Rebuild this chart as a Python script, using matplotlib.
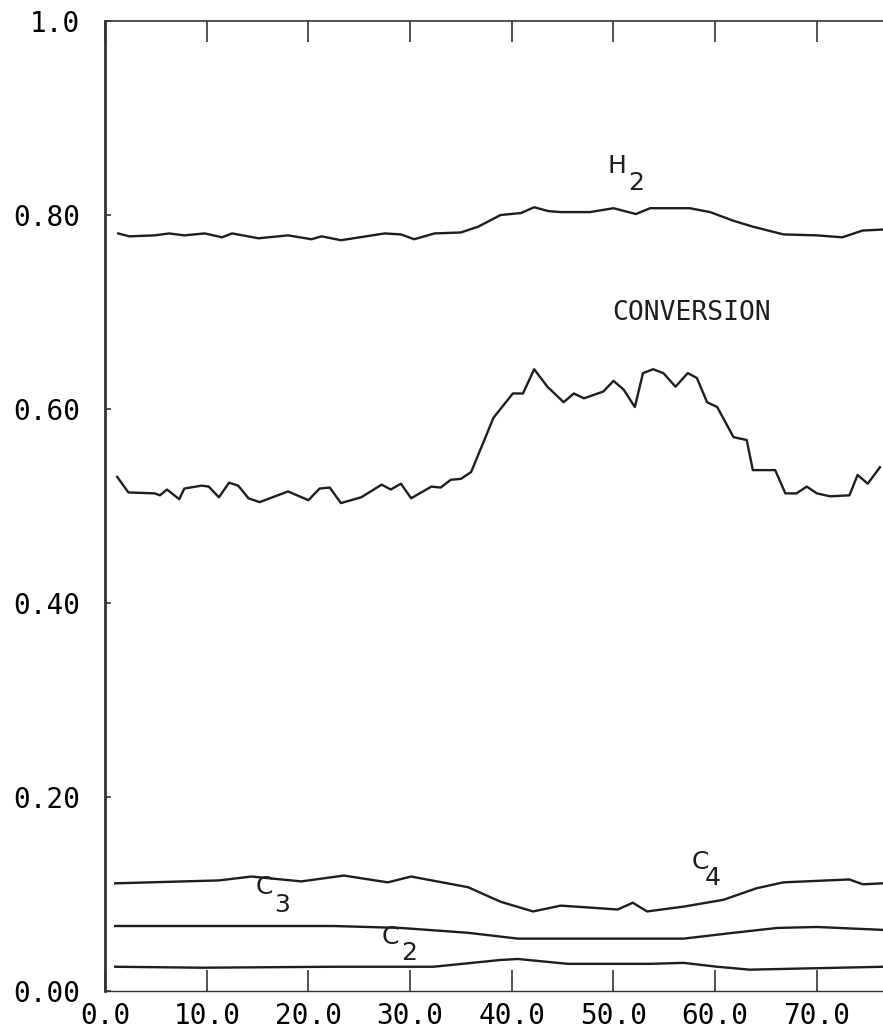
import matplotlib
matplotlib.use('Agg')
import matplotlib.pyplot as plt

# time on stream (h) and mole fractions
x_h2 = [1.3, 2.4, 4.9, 6.3, 7.8, 9.8, 11.5, 12.5, 15.1, 18.0, 20.3, 21.3, 23.2, 27.5, 29.1, 30.4,
        32.4, 35.0, 36.7, 38.9, 40.9, 42.2, 43.6, 44.8, 47.7, 50.0, 52.2, 53.6, 57.5, 59.5, 61.8,
        63.7, 66.7, 70.0, 72.5, 74.5, 76.5]
y_h2 = [0.781, 0.778, 0.779, 0.781, 0.779, 0.781, 0.777, 0.781, 0.776, 0.779, 0.775, 0.778, 0.774,
        0.781, 0.780, 0.775, 0.781, 0.782, 0.788, 0.800, 0.802, 0.808, 0.804, 0.803, 0.803, 0.807,
        0.801, 0.807, 0.807, 0.803, 0.794, 0.788, 0.780, 0.779, 0.777, 0.784, 0.785]

x_conv = [1.2, 2.3, 4.9, 5.4, 6.1, 7.3, 7.8, 9.5, 10.2, 11.2, 12.2, 13.1, 14.1, 15.2, 18.0, 20.0,
          21.1, 22.1, 23.2, 25.2, 27.2, 28.1, 29.1, 30.1, 32.1, 33.0, 34.0, 35.0, 36.0, 37.3, 38.2,
          40.1, 41.1, 42.2, 43.5, 45.1, 46.1, 47.1, 49.0, 50.0, 51.0, 52.1, 52.9, 53.9, 54.9, 56.1,
          57.3, 58.2, 59.2, 60.2, 61.8, 63.1, 63.7, 65.9, 66.9, 68.0, 69.0, 70.0, 71.3, 73.2, 74.0,
          75.0, 76.2]
y_conv = [0.530, 0.514, 0.513, 0.511, 0.517, 0.507, 0.518, 0.521, 0.520, 0.509, 0.524, 0.521, 0.508,
          0.504, 0.515, 0.506, 0.518, 0.519, 0.503, 0.509, 0.522, 0.517, 0.523, 0.508, 0.520, 0.519,
          0.527, 0.528, 0.535, 0.568, 0.591, 0.616, 0.616, 0.641, 0.623, 0.607, 0.616, 0.611, 0.618,
          0.629, 0.620, 0.602, 0.637, 0.641, 0.637, 0.623, 0.637, 0.632, 0.607, 0.602, 0.571, 0.568,
          0.537, 0.537, 0.513, 0.513, 0.520, 0.513, 0.510, 0.511, 0.532, 0.523, 0.540]

x_c4 = [1.0, 11.2, 14.4, 19.3, 23.5, 27.8, 30.1, 35.7, 38.9, 42.1, 44.8, 47.7, 50.4, 51.9, 53.3,
        56.9, 60.8, 64.1, 66.7, 73.2, 74.5, 76.5]
y_c4 = [0.111, 0.114, 0.118, 0.113, 0.119, 0.112, 0.118, 0.107, 0.092, 0.082, 0.088, 0.086, 0.084,
        0.091, 0.082, 0.087, 0.094, 0.106, 0.112, 0.115, 0.110, 0.111]

x_c3 = [1.0, 22.5, 29.1, 35.7, 40.6, 50.4, 56.9, 61.8, 66.1, 70.0, 76.5]
y_c3 = [0.067, 0.067, 0.065, 0.060, 0.054, 0.054, 0.054, 0.060, 0.065, 0.066, 0.063]

x_c2 = [1.0, 9.5, 22.5, 32.3, 38.9, 40.6, 45.5, 53.6, 56.9, 60.2, 63.4, 76.5]
y_c2 = [0.025, 0.024, 0.025, 0.025, 0.032, 0.033, 0.028, 0.028, 0.029, 0.025, 0.022, 0.025]

xticks = [0, 10, 20, 30, 40, 50, 60, 70]
xticklabels = ['0.0', '10.0', '20.0', '30.0', '40.0', '50.0', '60.0', '70.0']
yticks = [0.0, 0.2, 0.4, 0.6, 0.8, 1.0]
yticklabels = ['0.00', '0.20', '0.40', '0.60', '0.80', '1.0']

W, H = 883, 1032
fig = plt.figure(figsize=(W / 100, H / 100), dpi=100)
ax = fig.add_axes([105 / W, 41 / H, (W - 105) / W, 970 / H])

ink = '#1e1e1e'
for xs, ys in [(x_h2, y_h2), (x_conv, y_conv), (x_c4, y_c4), (x_c3, y_c3), (x_c2, y_c2)]:
    ax.plot(xs, ys, color=ink, lw=1.7, solid_joinstyle='round')

ax.set_xlim(0.2, 76.5)
ax.set_ylim(0.0, 1.0)

for side in ['left', 'top', 'bottom']:
    ax.spines[side].set_color('#333333')
ax.spines['left'].set_linewidth(2.0)
ax.spines['top'].set_linewidth(1.2)
ax.spines['bottom'].set_linewidth(1.0)
ax.spines['right'].set_visible(False)

mono = ['DejaVu Sans Mono']
ax.set_xticks(xticks)
ax.set_xticklabels(xticklabels, family=mono, fontsize=20)
ax.set_yticks(yticks)
ax.set_yticklabels(yticklabels, family=mono, fontsize=20)
ax.tick_params(axis='x', direction='in', length=15, width=1.2, color='#333333',
               top=True, bottom=True, pad=8)
ax.tick_params(axis='y', direction='in', length=4, width=1.2, color='#333333', pad=18)

# curve labels
lab = dict(family=['DejaVu Sans'], fontsize=18, color=ink, ha='center', va='center')
ax.text(50.3, 0.851, 'H', **lab)
ax.text(52.2, 0.833, '2', **lab)
ax.text(57.7, 0.699, 'CONVERSION', family=mono, fontsize=19, color=ink, ha='center', va='center')
ax.text(58.5, 0.133, 'C', **lab)
ax.text(59.8, 0.117, '4', **lab)
ax.text(15.7, 0.107, 'C', **lab)
ax.text(17.4, 0.089, '3', **lab)
ax.text(28.1, 0.056, 'C', **lab)
ax.text(29.9, 0.039, '2', **lab)

fig.savefig('out.png', dpi=100)
